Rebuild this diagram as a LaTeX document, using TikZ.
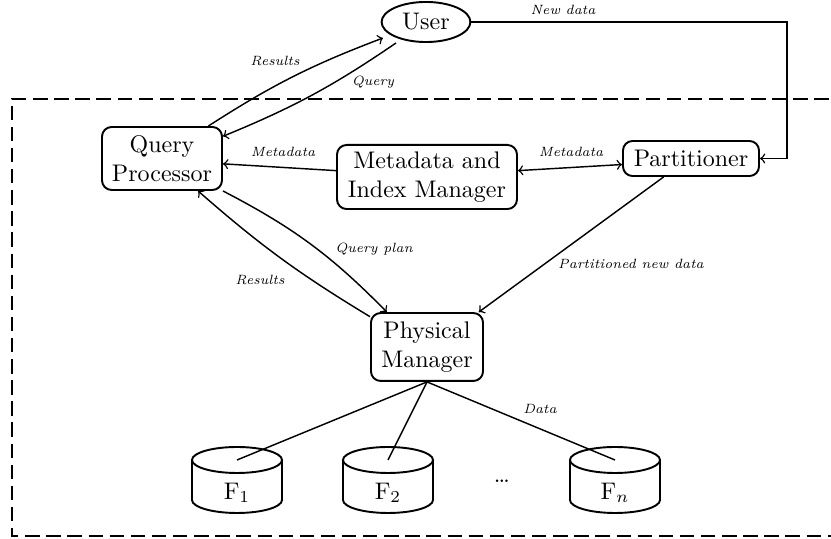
\documentclass[tikz,border=0pt]{standalone}
\usetikzlibrary{shapes.geometric,calc}
\begin{document}
\begin{tikzpicture}[x=0.4167pt,y=0.4167pt,
  box/.style={draw,thick,rounded corners=4pt,align=center,inner sep=1pt},
  conn/.style={semithick},
  lbl/.style={font=\fontsize{5.6}{7}\selectfont\itshape,inner sep=1pt},
  frame/.style={line width=0.9pt,dash pattern=on 6pt off 2.8pt}]
\useasboundingbox (0,0) rectangle (831,-539);
\draw[frame] (850,-99) -- (12,-99) -- (12,-536) -- (850,-536);

\node[draw,thick,ellipse,minimum width=37pt,minimum height=16.7pt,inner sep=0pt] (user) at (426,-22) {User};
\node[box,minimum width=50pt,minimum height=26.25pt] (qp) at (162,-158.5) {Query\\Processor};
\node[box,minimum width=75pt,minimum height=26.7pt] (mim) at (427,-177) {Metadata and\\Index Manager};
\node[box,minimum width=56.7pt,minimum height=14.6pt] (part) at (691,-158.5) {Partitioner};
\node[box,minimum width=46.7pt,minimum height=28.3pt] (pm) at (427,-347) {Physical\\Manager};

\foreach \n/\cx/\lab in {f1/237/{F$_1$}, f2/388/{F$_2$}, fn/615/{F$_n$}} {
  \draw[thick] (\cx,-460) ellipse [x radius=45,y radius=13];
  \draw[thick] (\cx-45,-460) -- (\cx-45,-500) arc[start angle=180,end angle=360,x radius=45,y radius=13] -- (\cx+45,-460);
  \coordinate (\n t) at (\cx,-460);
  \node (\n) at (\cx,-493) {\lab};
}
\node (dots) at (502,-481) {\dots};

\coordinate (uin) at (383,-38);
\coordinate (uout) at (396,-43);
\coordinate (nd) at (787,-22);

\draw[conn,->] (qp.35) to[bend left=6] (uin);
\draw[conn,->] (uout) to[bend left=6] (qp.20);
\draw[conn,->] (mim.176) -- (qp.355);
\draw[conn,<->] (mim.4) -- (part.185);
\draw[conn,->] (qp.south east) to[bend left=9] (pm.139);
\draw[conn,->] (pm.152) to[bend left=5] (qp.-42);
\draw[conn,->] (part.-146) -- (pm.34);
\draw[conn,->] (user.east) -- (nd) |- (part.east);
\foreach \n in {f1,f2,fn} \draw[conn] (pm.south) -- (\n t);

\node[lbl] (l1) at (275,-61) {Results};
\node[lbl] (l2) at (373,-82) {Query};
\node[lbl] (l3) at (283,-152) {Metadata};
\node[lbl] (l4) at (571,-152) {Metadata};
\node[lbl] (l5) at (374,-249) {Query plan};
\node[lbl] (l6) at (260,-280) {Results};
\node[lbl] (l7) at (631,-264) {Partitioned new data};
\node[lbl] (l8) at (563,-10) {New data};
\node[lbl] (l9) at (540,-409) {Data};
\end{tikzpicture}
\end{document}
